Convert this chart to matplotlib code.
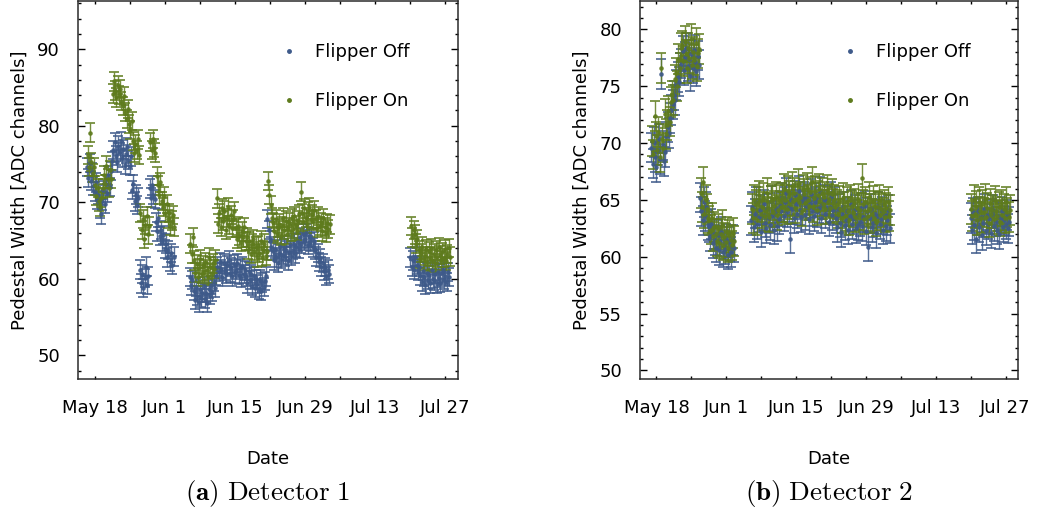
import datetime as dt
import numpy as np
import matplotlib
matplotlib.use("Agg")
import matplotlib.pyplot as plt
import matplotlib.dates as mdates
from matplotlib.lines import Line2D
from matplotlib.ticker import MultipleLocator, FixedLocator, FuncFormatter

plt.rcParams['font.family'] = ['DejaVu Sans']
plt.rcParams['mathtext.fontset'] = 'cm'

# runs every 6 hours, day 0 = May 18
start_date = dt.datetime(2022, 5, 18)
step = 0.25
on_shift = 0.125

# detector 1, three run periods (start day of each)
seg_start_1 = [-1.5, 19.0, 63.0]
det1_off = [
    [74.6, 73.2, 75.1, 72.8, 73.9, 72.1, 71.4, 72.6, 70.3, 71.0, 69.2, 68.4,
     70.2, 71.6, 69.8, 72.4, 71.2, 73.5, 72.0, 74.1,
     75.4, 76.8, 77.9, 76.1, 75.2, 77.4, 76.6, 78.0, 75.8, 76.9, 74.9, 76.3,
     77.2, 75.5, 74.8, 76.0,
     71.6, 72.4, 70.1, 71.0, 69.6, 70.6,
     61.2, 59.4, 60.6, 58.8, 60.1, 61.6, 59.2, 60.4,
     71.8, 70.6, 72.2, 71.0, 70.4,
     67.4, 66.2, 67.9, 65.6, 66.4, 64.8, 65.7, 63.9, 64.6, 62.8, 63.8, 62.2,
     63.4, 61.8, 62.9],
    [60.2, 59.1, 59.8,
     58.4, 57.2, 58.9, 57.8, 56.9, 58.6, 57.5, 58.2, 59.0, 57.4, 58.1, 56.8,
     58.7, 57.9, 59.2, 58.3, 59.6, 58.8,
     60.4, 61.6, 60.9, 62.2, 61.3, 60.2, 62.0, 61.0, 60.6, 61.8, 62.4, 60.8,
     61.5, 60.3, 61.9, 60.7, 61.2, 62.1, 60.5, 61.4, 60.1, 61.7, 60.6, 61.1,
     60.2, 59.4, 61.0, 59.8, 60.6, 59.1, 60.4, 58.8, 60.0, 59.3, 58.6, 59.9,
     58.4, 59.5, 58.9, 59.7, 60.3,
     67.8, 66.4, 65.0, 64.2,
     63.6, 62.4, 63.9, 62.8, 62.1, 63.4, 64.2, 62.6, 63.1, 64.0, 62.9, 63.7,
     62.3, 63.5, 64.4, 63.0, 63.8, 64.6, 63.2, 64.1, 64.8, 63.9,
     65.4, 64.6, 65.9, 64.9, 65.2, 66.0, 64.4, 65.6, 64.8, 65.3, 64.1, 64.9,
     63.8, 62.9, 63.4, 62.2, 62.7, 61.6, 62.1, 61.0, 61.5, 60.4, 61.2, 60.6],
    [62.8, 61.6, 62.4, 61.2, 62.9, 61.8, 61.0, 61.6,
     60.4, 59.6, 61.0, 60.2, 59.2, 60.8, 59.9, 60.5, 59.4, 61.1, 60.0, 59.7,
     60.6, 59.3, 60.9, 60.1, 59.5, 60.7, 61.2, 59.8, 60.4, 59.6, 60.9, 60.2],
]
det1_on = [
    [76.2, 74.6, 79.1, 75.3, 73.8, 74.6, 72.2, 70.8, 71.9, 70.1, 69.4, 70.6,
     71.8, 73.6, 72.4, 74.8, 73.1, 71.9, 74.2, 73.0,
     84.2, 85.8, 84.6, 83.7, 85.3, 84.0,
     84.8, 83.2, 82.6, 83.9, 81.8, 80.9, 82.2, 80.2, 79.4, 80.6,
     78.0, 76.4, 77.6, 76.8, 78.2, 76.2,
     68.6, 66.4, 67.8, 65.2, 67.0, 68.2, 65.8, 66.9,
     77.9, 76.8, 78.3, 77.1, 76.5,
     73.4, 72.2, 71.0, 72.6, 70.2, 69.4, 70.8, 68.6, 69.8, 67.8, 68.6, 66.9,
     67.6, 68.3, 66.8],
    [64.6, 63.2, 65.4,
     62.4, 60.8, 61.9, 60.2, 61.4, 62.6, 60.6, 61.8, 60.9, 62.2, 61.2, 60.4,
     62.8, 61.6, 60.7, 62.0, 61.3, 62.5,
     70.5, 67.2, 68.6, 66.8, 69.2, 67.6, 68.9, 66.4, 67.9, 69.4, 67.0, 68.3,
     66.6, 67.8, 68.8,
     66.6, 65.2, 66.9, 65.6, 64.8, 66.2, 65.4, 66.8, 64.9,
     65.4, 63.8, 64.9, 63.2, 64.6, 65.2, 63.6, 64.2, 62.8, 64.4, 63.4, 65.0,
     62.9, 63.8, 64.6, 63.0, 63.6,
     72.8, 71.0, 69.6, 68.0,
     67.4, 66.2, 67.8, 65.9, 66.6, 67.2, 65.6, 66.9, 68.0, 66.4, 67.6, 65.8,
     66.8, 67.4, 66.1, 67.9, 66.5, 68.2, 67.0, 66.3, 67.7, 68.4,
     71.4, 68.6, 67.4, 69.2, 68.0, 67.2, 68.8, 69.4, 67.8, 68.5, 67.6, 69.0,
     67.8, 66.6, 68.2, 66.9, 67.4, 66.2, 67.9, 66.8, 66.0, 67.3, 66.5, 67.1],
    [66.9, 65.4, 66.4, 65.8, 64.6, 65.2,
     63.8, 62.6, 63.4, 64.2, 62.4, 63.0, 63.9, 62.2, 63.6, 62.9, 64.0, 62.5,
     63.3, 62.1, 63.7, 62.8, 64.1, 63.1, 62.4, 63.5, 62.7, 63.9, 62.3, 63.2,
     64.0, 62.9],
]
err_1 = 1.2

# detector 2
seg_start_2 = [-1.0, 19.0, 63.0]
det2_off = [
    [69.6, 68.2, 70.1, 68.8, 67.9, 69.4, 70.4, 68.6, 76.1, 69.8, 68.4, 69.2,
     70.6, 71.4, 70.9, 72.2, 72.9, 73.4, 74.2, 73.8, 75.1, 75.8, 75.4, 76.6,
     77.0, 78.1, 76.4, 77.6, 78.4, 76.8, 77.4, 75.9, 77.8, 76.6, 78.2, 77.1,
     76.3, 77.7, 76.9,
     65.2, 64.0, 63.2, 64.8, 63.6, 64.4, 62.8,
     62.6, 61.8, 62.9, 61.2, 62.0, 61.5, 60.8, 61.9, 60.6, 61.4, 62.2, 60.4,
     61.1, 60.7, 61.6, 60.2, 61.3, 60.9, 60.4, 61.5, 60.8],
    [63.2, 64.4, 62.6, 63.8, 64.8, 62.9, 63.5, 64.1, 62.2, 63.7, 64.6, 63.0,
     62.5, 64.2, 63.4, 62.8, 64.9, 63.6, 62.4, 63.9, 64.3, 62.7, 63.3, 64.5,
     64.0, 65.2, 63.6, 64.8, 65.6, 63.9, 64.4, 61.6, 65.0, 64.2, 63.4, 65.4,
     64.6, 63.8, 65.8, 64.1, 63.5, 64.9, 65.3, 63.7, 64.5, 65.1, 63.3, 64.7,
     65.5, 64.0, 63.6, 64.8, 65.2, 63.9, 64.3, 65.7, 63.4, 64.6, 65.0, 63.8,
     64.2, 64.9, 63.1, 64.4, 65.3, 63.7, 64.1, 64.8,
     63.4, 62.6, 64.2, 63.0, 62.2, 63.8, 64.4, 62.8, 63.2, 64.0, 62.4, 63.6,
     64.6, 62.9, 63.3, 64.1, 62.5, 63.7, 62.8, 63.1, 64.3, 62.7, 63.5, 64.5,
     62.3, 63.9, 60.9, 63.4, 64.2, 62.6, 63.0, 63.8, 62.1, 63.6, 64.4, 62.9,
     63.3, 64.0, 62.4, 63.7, 62.7, 63.2, 64.1, 62.5],
    [63.4, 62.4, 63.9, 62.8, 61.6, 63.2, 64.0, 62.6, 63.5, 61.9, 63.0, 64.2,
     62.3, 63.7, 62.9, 63.3, 62.1, 63.8, 64.1, 62.7, 63.1, 62.4, 63.6, 62.0,
     63.4, 64.0, 62.6, 63.2, 62.9, 63.7, 62.5, 63.1],
]
det2_on = [
    [70.2, 69.0, 72.4, 70.6, 69.4, 71.0, 68.8, 76.6, 70.4, 69.6, 72.6, 70.8,
     71.6, 72.8, 71.9, 73.6, 74.2, 73.8, 75.6, 76.2, 75.0, 77.4, 76.6, 78.4,
     78.6, 77.2, 79.0, 77.8, 76.6, 78.4, 77.5, 79.2, 76.9, 78.0, 77.3, 78.8,
     76.8, 77.9, 78.3,
     65.6, 64.4, 66.6, 63.8, 65.0, 64.2, 63.4,
     63.2, 62.4, 63.4, 61.8, 62.6, 62.0, 61.4, 62.5, 61.2, 62.0, 62.8, 61.0,
     61.7, 61.3, 62.2, 60.8, 61.9, 61.5, 61.0, 62.1, 61.4],
    [64.2, 63.4, 65.0, 64.6, 63.2, 64.8, 65.4, 63.8, 64.4, 65.2, 63.6, 64.0,
     65.6, 64.3, 63.5, 64.9, 65.1, 63.9, 64.5, 65.3, 63.7, 64.1, 65.0, 64.4,
     65.2, 64.4, 66.0, 65.0, 64.2, 65.8, 65.4, 64.6, 66.2, 64.9, 65.6, 64.3,
     65.1, 66.4, 64.8, 65.3, 64.0, 65.9, 65.5, 64.7, 66.1, 65.0, 64.5, 65.7,
     66.6, 64.4, 65.2, 65.8, 64.1, 65.4, 66.0, 64.9, 65.6, 64.6, 65.3, 64.2,
     65.9, 64.8, 65.1, 64.3, 65.5, 64.7, 65.0, 64.4,
     64.6, 63.8, 64.9, 64.2, 63.4, 65.2, 64.4, 63.6, 64.8, 64.0, 63.2, 65.0,
     64.5, 63.9, 64.7, 63.5, 64.3, 65.1, 63.7, 64.1, 66.9, 64.6, 63.3, 64.8,
     64.0, 63.6, 65.3, 64.2, 63.8, 64.9, 63.4, 64.5, 63.1, 64.4, 65.0, 63.7,
     64.2, 63.9, 64.6, 63.5, 64.3, 64.8, 63.6, 64.1],
    [64.2, 63.6, 65.0, 63.8, 64.5, 63.2, 64.8, 64.0, 63.4, 64.6, 63.9, 65.1,
     63.5, 64.3, 63.0, 64.7, 63.8, 64.1, 63.3, 64.9, 64.0, 63.6, 64.4, 63.1,
     64.6, 63.7, 64.2, 63.4, 64.8, 63.9, 63.5, 64.1],
]
err_2 = 1.3

blue = '#3e5a8a'
green = '#5e7b1d'


def runs(starts, segments, shift=0.0):
    t, v = [], []
    for s, vals in zip(starts, segments):
        t.extend(s + shift + step * np.arange(len(vals)))
        v.extend(vals)
    return mdates.date2num(start_date) + np.array(t), np.array(v)


def date_label(x, pos):
    d = mdates.num2date(x)
    return f"{d:%b} {d.day}"


def draw(ax, starts, off, on, err, ylim, yminor, caption):
    for vals, shift, c in [(off, 0.0, blue), (on, on_shift, green)]:
        x, y = runs(starts, vals, shift)
        ax.errorbar(x, y, yerr=err, fmt='o', ms=2.3, color=c, ecolor=c,
                    elinewidth=1.0, capsize=3.3, capthick=1.3, alpha=0.85)

    t0 = mdates.date2num(start_date)
    ax.set_xlim(t0 - 3.3, t0 + 72.5)
    ax.set_ylim(*ylim)
    ax.xaxis.set_major_locator(FixedLocator([t0 + 14 * k for k in range(6)]))
    ax.xaxis.set_minor_locator(FixedLocator([t0 + 7 + 14 * k for k in range(6)]))
    ax.xaxis.set_major_formatter(FuncFormatter(date_label))
    ax.yaxis.set_major_locator(MultipleLocator(yminor * 5))
    ax.yaxis.set_minor_locator(MultipleLocator(yminor))
    ax.tick_params(which='both', direction='in', top=True, right=True,
                   labelsize=13, pad=13, width=1)
    ax.tick_params(axis='x', which='both', pad=14.5)
    ax.tick_params(axis='y', which='major', length=5)
    ax.tick_params(axis='y', which='minor', length=2.5)
    ax.tick_params(axis='x', which='both', length=2.5)
    for sp in ax.spines.values():
        sp.set_linewidth(1.1)
        sp.set_color('#2b2b2b')

    ax.set_xlabel('Date', fontsize=13, labelpad=23.5)
    ax.set_ylabel('Pedestal Width [ADC channels]', fontsize=13, labelpad=6)

    handles = [Line2D([], [], marker='o', ms=2.5, ls='none', color=blue),
               Line2D([], [], marker='o', ms=2.5, ls='none', color=green)]
    ax.legend(handles, ['Flipper Off', 'Flipper On'], loc='upper left',
              bbox_to_anchor=(0.466, 0.931), frameon=False, fontsize=13,
              labelspacing=1.7, handletextpad=0.4)

    pos = ax.get_position()
    ax.figure.text(pos.x0 + pos.width / 2, 0.046, caption, ha='center',
                   va='center', fontsize=19.5)


fig = plt.figure(figsize=(10.37, 5.17), dpi=100)
ax1 = fig.add_axes([78 / 1037, 138 / 517, 380 / 1037, 378 / 517])
ax2 = fig.add_axes([640 / 1037, 138 / 517, 378 / 1037, 378 / 517])

draw(ax1, seg_start_1, det1_off, det1_on, err_1, (46.9, 96.3), 2,
     r'$\mathbf{(a)}\ \mathrm{Detector\ 1}$')
draw(ax2, seg_start_2, det2_off, det2_on, err_2, (49.25, 82.5), 1,
     r'$\mathbf{(b)}\ \mathrm{Detector\ 2}$')

fig.savefig('out.png', dpi=100)
